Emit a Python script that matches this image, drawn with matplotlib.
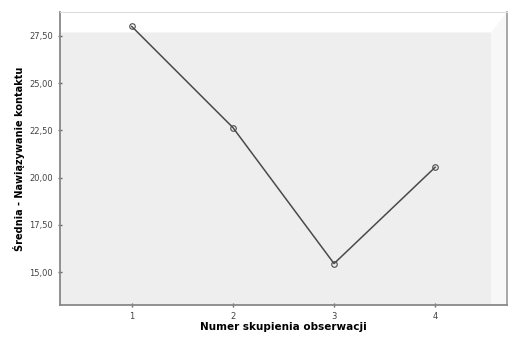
import matplotlib.pyplot as plt
from matplotlib.patches import Polygon
from matplotlib.ticker import FuncFormatter

# dane
skupienia = [1, 2, 3, 4]
srednie = [28.0, 22.65, 15.45, 20.55]
yticks = [15.0, 17.5, 20.0, 22.5, 25.0, 27.5]

fig = plt.figure(figsize=(5.08, 3.40), dpi=100)
ax = fig.add_axes([0.118, 0.103, 0.880, 0.862])
ax.set_facecolor('#eeeeee')

# jasny pasek u góry i z prawej (efekt ramki SPSS)
ax.add_patch(Polygon([(0, 1), (1, 1), (1, 0), (0.965, 0), (0.965, 0.93), (0, 0.93)],
                     closed=True, transform=ax.transAxes, facecolor='#f7f7f7',
                     edgecolor='none', zorder=0))
ax.add_patch(Polygon([(0, 1), (1, 1), (0.965, 0.93), (0, 0.93)],
                     closed=True, transform=ax.transAxes, facecolor='#ffffff',
                     edgecolor='none', zorder=0))

ax.plot(skupienia, srednie, color='#4a4a4a', linewidth=1.1,
        marker='o', markersize=4, markerfacecolor='none',
        markeredgecolor='#4a4a4a', markeredgewidth=0.8, zorder=3)

ax.set_xlim(0.29, 4.71)
ax.set_ylim(13.26, 28.77)
ax.set_xticks(skupienia)
ax.set_yticks(yticks)
ax.yaxis.set_major_formatter(FuncFormatter(lambda v, p: f'{v:.2f}'.replace('.', ',')))
ax.tick_params(axis='both', labelsize=6, colors='#666666', labelcolor='#444444',
               length=3, width=1, direction='inout')

for s in ['left', 'bottom']:
    ax.spines[s].set_color('#888888')
    ax.spines[s].set_linewidth(1.3)
ax.spines['top'].set_color('#dddddd')
ax.spines['right'].set_color('#999999')
ax.spines['right'].set_linewidth(1.2)

ax.set_xlabel('Numer skupienia obserwacji', fontsize=7.5, fontweight='bold', labelpad=1)
ax.set_ylabel('Średnia - Nawiązywanie kontaktu', fontsize=7, fontweight='bold', labelpad=3)

fig.savefig('out.png', dpi=100)
